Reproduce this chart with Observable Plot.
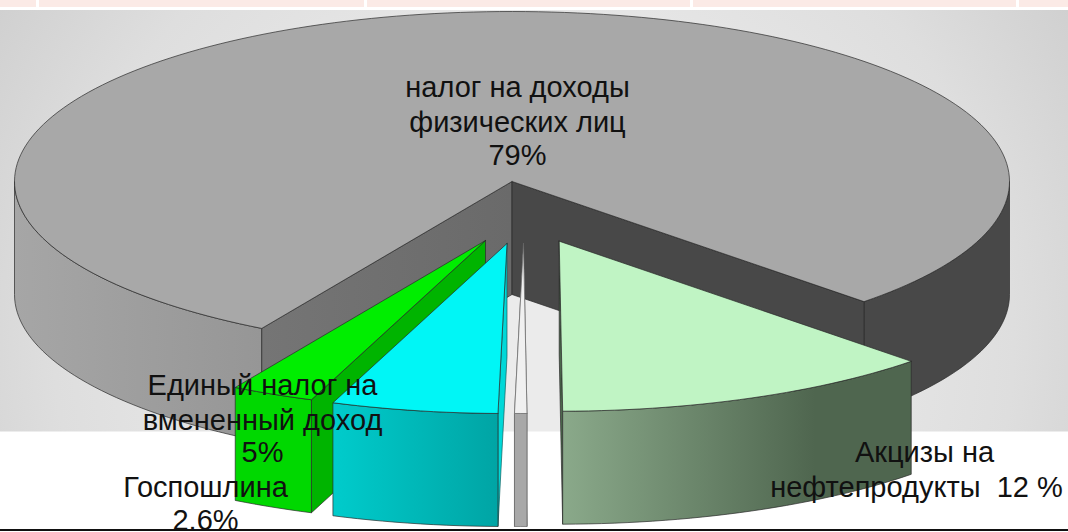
<!DOCTYPE html>
<html><head><meta charset="utf-8">
<script src="https://cdn.jsdelivr.net/npm/d3@7"></script>
<script src="https://cdn.jsdelivr.net/npm/@observablehq/plot@0.6"></script>
<style>html,body{margin:0;padding:0;background:#fff}svg{display:block}</style>
</head><body><div id="chart"></div>
<script>
// Slice order, clockwise from the lower left of the big slice
const sliceNames = ["НДФЛ", "Акцизы", "Прочее", "ЕНВД", "Госпошлина"];
// Angular share of each slice, percent
const sliceShares = [79.1, 12.4, 0.4, 5.4, 2.7];
// Label texts, split in lines
const labelLines = [
  "налог на доходы", "физических лиц", "79%",
  "Единый налог на", "вмененный доход", "5%",
  "Госпошлина", "2.6%",
  "Акцизы на", "нефтепродукты  12 %"
];
const labelX = [517, 517, 517, 262, 262, 262, 205, 205, 924, 916];
const labelY = [87, 122, 155, 385, 420, 452, 487, 520, 452, 487];

// Layout of the drawing
const W = 1068, H = 532;
const RX = 497.5, RY = 170, DEPTH = 113, START = 120.2;
const apex = [[511.5,181],[558.7,240.7],[523,243],[506.5,243],[485,240]];
const faceFill = ["#a8a8a8","#c0f4c4","#f0f0f0","#00f6f6","#00ee00"];

// angles from the shares
let acc = START;
const slices = sliceShares.map((s, i) => {
  const a0 = acc, a1 = acc + s * 3.6; acc = a1;
  return {name: sliceNames[i], a0, a1, c: apex[i], fill: faceFill[i]};
});
const rad = d => d * Math.PI / 180;
const rim = (c, a, d = 0) => ({x: c[0] + RX * Math.cos(rad(a)), y: c[1] + RY * Math.sin(rad(a)) + d});
const arc = (c, a0, a1, d = 0) => {
  const n = Math.max(2, Math.ceil(Math.abs(a1 - a0) / 1.5));
  return d3.range(n + 1).map(k => rim(c, a0 + (a1 - a0) * k / n, d));
};
const P = (c, d = 0) => ({x: c[0], y: c[1] + d});
const ring = pts => [...pts, pts[0]];
const topFace = s => ring([P(s.c), ...arc(s.c, s.a0, s.a1)]);
const frontFace = (c, a0, a1) => ring([...arc(c, a0, a1), ...arc(c, a1, a0, DEPTH)]);
const wallFace = (s, a) => ring([P(s.c), P(s.c, DEPTH), rim(s.c, a, DEPTH), rim(s.c, a)]);
const poly = (pts, fill, stroke = "#2a2a2a", sw = 0.7) =>
  Plot.line(pts, {x: "x", y: "y", fill, stroke, strokeWidth: sw, curve: "linear"});

const [bigSlice, excise, sliver, envd, duty] = slices;

const defs = () => {
  const ns = "http://www.w3.org/2000/svg";
  const d = document.createElementNS(ns, "defs");
  d.innerHTML = `
  <radialGradient id="bg" gradientUnits="userSpaceOnUse" cx="534" cy="340" r="640">
    <stop offset="0.35" stop-color="#ebebeb"/><stop offset="0.75" stop-color="#dedede"/><stop offset="1" stop-color="#cfcfcf"/></radialGradient>
  <linearGradient id="leftWall" gradientUnits="userSpaceOnUse" x1="14" x2="262" y1="0" y2="0">
    <stop offset="0" stop-color="#a6a6a6"/><stop offset="1" stop-color="#969696"/></linearGradient>
  <linearGradient id="innerLeft" gradientUnits="userSpaceOnUse" x1="262" x2="511" y1="0" y2="0">
    <stop offset="0" stop-color="#757575"/><stop offset="1" stop-color="#6a6a6a"/></linearGradient>
  <linearGradient id="exciseFront" gradientUnits="userSpaceOnUse" x1="563" x2="912" y1="0" y2="0">
    <stop offset="0" stop-color="#8aa98a"/><stop offset="0.72" stop-color="#4f664f"/><stop offset="1" stop-color="#4f664f"/></linearGradient>
  <linearGradient id="cyanFront" gradientUnits="userSpaceOnUse" x1="331" x2="500" y1="0" y2="0">
    <stop offset="0" stop-color="#00cccc"/><stop offset="1" stop-color="#00a4a4"/></linearGradient>`;
  return d;
};

const bands = [[0,36],[39,364],[367,690],[693,1016],[1019,1068]].map(([a,b]) => ({a,b}));

const chart = Plot.plot({
  width: W, height: H,
  margin: 0,
  x: {domain: [0, W], range: [0, W], axis: null},
  y: {domain: [0, H], range: [0, H], axis: null},
  style: {background: "#fff", overflow: "hidden"},
  marks: [
    defs,
    Plot.rect(bands, {x1: "a", x2: "b", y1: 0, y2: 7, fill: "#fbeae6"}),
    Plot.rect([0], {x1: 0, x2: W, y1: 10, y2: 431.5, fill: "url(#bg)"}),
    // big slice: outer walls, inner walls, top
    poly(frontFace(bigSlice.c, 120.2, 180), "url(#leftWall)"),
    poly(frontFace(bigSlice.c, 0, excise.a0 - 360), "#484848"),
    poly(wallFace(bigSlice, bigSlice.a0), "url(#innerLeft)"),
    poly(wallFace(bigSlice, excise.a0), "#484848"),
    poly(topFace(bigSlice), bigSlice.fill),
    // Госпошлина
    poly(wallFace(duty, duty.a0), "#00b400"),
    poly(frontFace(duty.c, duty.a0, duty.a1), "#00d800"),
    poly(topFace(duty), duty.fill),
    // ЕНВД
    poly(wallFace(envd, envd.a0), "#00d8d8", "#106060"),
    poly(frontFace(envd.c, envd.a0, envd.a1), "url(#cyanFront)"),
    poly(topFace(envd), envd.fill),
    // sliver
    poly(wallFace(sliver, sliver.a1), "#e6e6e6", "#555"),
    poly(wallFace(sliver, sliver.a0), "#e6e6e6", "#555"),
    poly(frontFace(sliver.c, sliver.a0, sliver.a1), "#a8a8a8", "#666"),
    poly(topFace(sliver), sliver.fill, "#666"),
    // Акцизы
    poly(wallFace(excise, excise.a1), "#4c684c"),
    poly(frontFace(excise.c, excise.a0, excise.a1), "url(#exciseFront)"),
    poly(topFace(excise), excise.fill),
    Plot.text(labelLines, {
      x: (d, i) => labelX[i], y: (d, i) => labelY[i], text: d => d,
      fontFamily: "Liberation Sans", fontSize: 29, fill: "#111",
      textAnchor: "middle", lineAnchor: "middle"
    }),
    Plot.rect([0], {x1: 0, x2: W, y1: 529, y2: 531, fill: "#111"})
  ]
});
document.getElementById("chart").append(chart);
</script></body></html>
